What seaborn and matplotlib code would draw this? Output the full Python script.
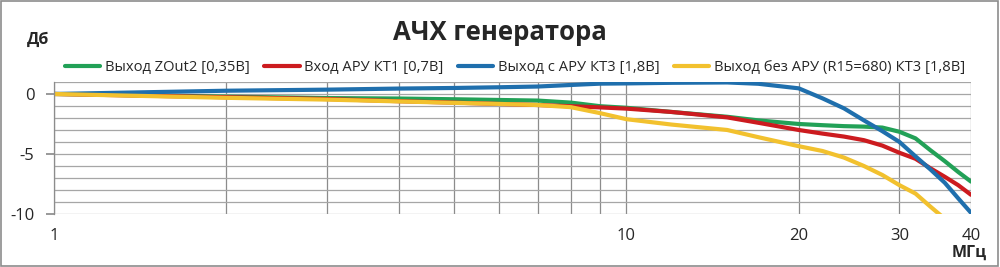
import numpy as np
import pandas as pd
import matplotlib
matplotlib.use("Agg")
import matplotlib.pyplot as plt
import seaborn as sns
from matplotlib.lines import Line2D

freq = [1, 2, 3, 4, 5, 6, 7, 8, 9, 10, 12, 15, 17, 20, 22, 24, 26, 28, 30, 32, 34, 36, 38, 40]

zout2 = [0, -0.22, -0.34, -0.38, -0.44, -0.50, -0.55, -0.72, -1.02, -1.15, -1.5, -1.9, -2.2, -2.5,
         -2.6, -2.68, -2.72, -2.8, -3.15, -3.7, -4.7, -5.6, -6.5, -7.3]
vhod_aru = [0, -0.27, -0.42, -0.6, -0.72, -0.83, -0.92, -1.02, -1.12, -1.22, -1.5, -1.95, -2.4, -3.0,
            -3.3, -3.55, -3.85, -4.3, -4.9, -5.4, -6.2, -6.9, -7.6, -8.4]
vyhod_aru = [0, 0.27, 0.36, 0.45, 0.5, 0.56, 0.62, 0.75, 0.86, 0.88, 0.93, 0.96, 0.85, 0.47,
             -0.36, -1.2, -2.2, -3.1, -4.0, -5.2, -6.3, -7.4, -8.7, -9.9]
vyhod_bez = [0, -0.32, -0.47, -0.62, -0.74, -0.83, -0.92, -1.1, -1.6, -2.1, -2.55, -3.0, -3.6, -4.35,
             -4.75, -5.3, -6.0, -6.75, -7.6, -8.3, -9.4, -10.4, -11.5, -12.5]

labels = ["Выход ZOut2 [0,35В]", "Вход АРУ КТ1 [0,7В]", "Выход с АРУ КТ3 [1,8В]",
          "Выход без АРУ (R15=680) КТ3 [1,8В]"]
colors = ["#22a157", "#cc1b1f", "#1f6fad", "#f2c12e"]
series = [zout2, vhod_aru, vyhod_aru, vyhod_bez]

rows = []
for lab, vals in zip(labels, series):
    for f, v in zip(freq, vals):
        rows.append({"f": f, "db": v, "s": lab})
df = pd.DataFrame(rows)

sns.set_theme(style="white")
plt.rcParams['font.family'] = ['Open Sans', 'DejaVu Sans']

fig = plt.figure(figsize=(10, 2.67), dpi=100)
ax = fig.add_axes([0.054, 0.1985, 0.917, 0.4945])

sns.lineplot(data=df, x="f", y="db", hue="s", hue_order=labels, palette=colors, linewidth=3,
             ax=ax, legend=False, sort=True)
for ln in ax.lines:
    ln.set_solid_joinstyle("round")
    ln.set_solid_capstyle("round")

ax.set_xscale("log")
ax.set_xlim(1, 40)
ax.set_ylim(-10, 1)

xgrid = [1, 2, 3, 4, 5, 6, 7, 8, 9, 10, 20, 30, 40]
for xv in xgrid:
    ax.axvline(xv, color="#8c8c8c", lw=0.9, zorder=0)
for yv in range(-10, 2):
    ax.axhline(yv, color="#a6a6a6", lw=0.9, zorder=0)

ax.set_xticks([1, 10, 20, 30, 40])
ax.set_xticklabels(["1", "10", "20", "30", "40"])
ax.xaxis.set_minor_locator(matplotlib.ticker.NullLocator())
ax.set_yticks([0, -5, -10])
ax.set_yticklabels(["0", "-5", "-10"])
ax.tick_params(axis="y", length=6, color="#8c8c8c", labelsize=12, pad=8, left=True)
ax.tick_params(axis="x", length=0, labelsize=12, pad=10)
ax.set_xlabel("")
ax.set_ylabel("")
for s in ["top", "right", "bottom"]:
    ax.spines[s].set_visible(False)
ax.spines["left"].set_color("#8c8c8c")
ax.spines["left"].set_linewidth(0.9)

fig.text(0.5, 0.88, "АЧХ генератора", ha="center", va="center", fontsize=18.5, fontweight="bold")
fig.text(0.038, 0.85, "Дб", ha="center", va="center", fontsize=11.5, fontweight="bold")
fig.text(0.969, 0.055, "МГц", ha="center", va="center", fontsize=11.5, fontweight="bold")

handles = [Line2D([0], [0], color=c, lw=3) for c in colors]
fig.legend(handles, labels, loc="center", bbox_to_anchor=(0.515, 0.748), ncol=4,
           frameon=False, fontsize=10.6, handlelength=2.4, handletextpad=0.3, columnspacing=1.0)

border = plt.Rectangle((0.001, 0.002), 0.997, 0.995, transform=fig.transFigure,
                       fill=False, edgecolor="#8c8c8c", lw=1.2)
fig.patches.append(border)

fig.savefig("out.png", dpi=100)
